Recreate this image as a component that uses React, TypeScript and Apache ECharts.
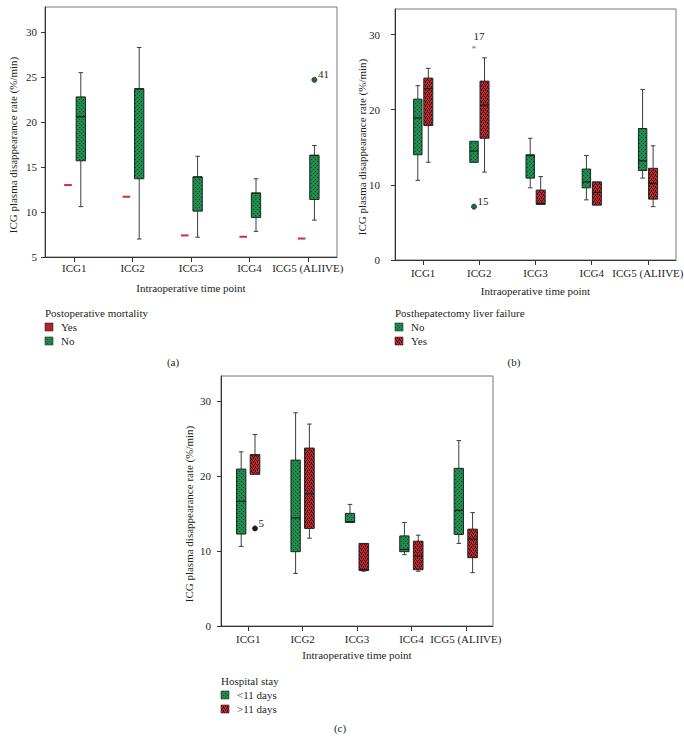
import React, { useEffect, useRef } from 'react';
import * as echarts from 'echarts';

// ---------- data ----------
const categories = ['ICG1', 'ICG2', 'ICG3', 'ICG4', 'ICG5 (ALIIVE)'];
const yTicksA = [5, 10, 15, 20, 25, 30];
const yTicksBC = [0, 10, 20, 30];

// box statistics per time point: [lower whisker, Q1, median, Q3, upper whisker]
// (a) Postoperative mortality
const mortalityYes = [
  [13.0, 13.0, 13.0, 13.0, 13.0],
  [11.7, 11.7, 11.7, 11.7, 11.7],
  [7.4, 7.4, 7.4, 7.4, 7.4],
  [7.25, 7.25, 7.25, 7.25, 7.25],
  [7.05, 7.05, 7.05, 7.05, 7.05],
];
const mortalityNo = [
  [10.6, 15.7, 20.6, 22.8, 25.5],
  [7.0, 13.7, 23.7, 23.7, 28.3],
  [7.2, 10.1, 13.9, 13.9, 16.2],
  [7.85, 9.4, 12.1, 12.1, 13.7],
  [9.1, 11.4, 16.3, 16.3, 17.4],
];
// [category index, value, case label, kind]
const mortalityNoOutliers: [number, number, string, string][] = [[4, 24.7, '41', 'circle']];

// (b) Posthepatectomy liver failure
const liverFailureNo = [
  [10.6, 14.0, 18.9, 21.4, 23.2],
  [13.0, 13.0, 14.5, 15.8, 15.8],
  [9.6, 10.9, 13.9, 14.0, 16.2],
  [8.0, 9.6, 10.4, 12.1, 13.9],
  [10.9, 11.9, 13.2, 17.5, 22.7],
];
const liverFailureYes = [
  [13.0, 17.9, 22.8, 24.2, 25.5],
  [11.7, 16.2, 20.6, 23.8, 26.9],
  [7.4, 7.4, 7.5, 9.3, 11.1],
  [7.3, 7.3, 9.0, 10.4, 10.4],
  [7.1, 8.1, 10.2, 12.2, 15.2],
];
const liverFailureNoOutliers: [number, number, string, string][] = [
  [1, 28.3, '17', 'extreme'],
  [1, 7.1, '15', 'circle'],
];

// (c) Hospital stay
const stayShort = [
  [10.6, 12.25, 16.6, 20.9, 23.2],
  [7.0, 9.9, 14.4, 22.1, 28.4],
  [13.8, 13.8, 13.9, 15.0, 16.2],
  [9.5, 9.9, 10.2, 12.0, 13.8],
  [11.0, 12.2, 15.4, 21.0, 24.7],
];
const stayLong = [
  [20.2, 20.2, 22.8, 22.8, 25.5],
  [11.7, 13.0, 17.6, 23.7, 26.9],
  [7.3, 7.4, 7.5, 11.0, 11.0],
  [7.3, 7.5, 9.3, 11.3, 12.1],
  [7.1, 9.1, 11.6, 12.9, 15.1],
];
const stayLongOutliers: [number, number, string, string][] = [[0, 13.0, '5', 'circle']];

// ---------- styles ----------
const FONT_FAMILY = '"Liberation Serif", "DejaVu Serif", serif';
const FONT = `11px ${FONT_FAMILY}`;
const TEXT = '#231f20';
const GREEN = '#1f8b4f';
const GREEN_DOT = '#0c4726';
const RED = '#bd2a34';
const RED_DOT = '#4a090e';
const RED_SOLID = '#b5222b';
const BOX_STROKE = '#17261c';
const WHISKER = '#3c3c3c';

const svgUrl = (svg: string) => 'data:image/svg+xml;charset=utf-8,' + encodeURIComponent(svg);
const greenPattern = {
  image: svgUrl(
    `<svg xmlns='http://www.w3.org/2000/svg' width='4' height='4'><rect width='4' height='4' fill='${GREEN}'/><rect x='1' y='1' width='1' height='1' fill='${GREEN_DOT}'/><rect x='3' y='3' width='1' height='1' fill='${GREEN_DOT}'/></svg>`
  ),
  repeat: 'repeat',
  imageWidth: 4,
  imageHeight: 4,
};
const redPattern = {
  image: svgUrl(
    `<svg xmlns='http://www.w3.org/2000/svg' width='4' height='4'><rect width='4' height='4' fill='${RED}'/><rect x='0' y='0' width='1' height='1' fill='${RED_DOT}'/><rect x='2' y='0' width='1' height='1' fill='${RED_DOT}'/><rect x='1' y='2' width='1' height='1' fill='${RED_DOT}'/><rect x='3' y='2' width='1' height='1' fill='${RED_DOT}'/><rect x='1' y='1' width='1' height='1' fill='${RED_DOT}'/><rect x='3' y='3' width='1' height='1' fill='${RED_DOT}'/></svg>`
  ),
  repeat: 'repeat',
  imageWidth: 4,
  imageHeight: 4,
};

const ln = (x1: number, y1: number, x2: number, y2: number, stroke: string, lineWidth = 1) => ({
  type: 'line',
  shape: { x1, y1, x2, y2 },
  style: { stroke, lineWidth },
});

function makeBoxRender(offset: number, width: number, fill: any, flatColor?: string) {
  return (params: any, api: any) => {
    const ci = api.value(0);
    const v = [api.value(1), api.value(2), api.value(3), api.value(4), api.value(5)];
    const cx = api.coord([ci, v[0]])[0] + offset;
    const py = v.map((val: number) => api.coord([ci, val])[1]);
    const h = width / 2;
    const children: any[] = [];
    if (flatColor) {
      children.push(ln(cx - h, py[2], cx + h, py[2], flatColor, 2));
      return { type: 'group', children };
    }
    const cap = 2.3;
    if (py[3] - py[4] > 0.5) {
      children.push(ln(cx, py[3], cx, py[4], WHISKER));
      children.push(ln(cx - cap, py[4], cx + cap, py[4], WHISKER));
    }
    if (py[0] - py[1] > 0.5) {
      children.push(ln(cx, py[1], cx, py[0], WHISKER));
      children.push(ln(cx - cap, py[0], cx + cap, py[0], WHISKER));
    }
    children.push({
      type: 'rect',
      shape: { x: cx - h, y: py[3], width, height: Math.max(py[1] - py[3], 1) },
      style: { fill, stroke: BOX_STROKE, lineWidth: 1 },
    });
    children.push(ln(cx - h, py[2], cx + h, py[2], BOX_STROKE, 1.3));
    return { type: 'group', children };
  };
}

function makeOutlierRender(list: [number, number, string, string][], offset: number, color: string) {
  return (params: any, api: any) => {
    const ci = api.value(0);
    const p = api.coord([ci, api.value(1)]);
    const x = p[0] + offset;
    const y = p[1];
    const item = list[params.dataIndex];
    const children: any[] = [];
    if (item[3] === 'extreme') {
      const c = '#8a9a90';
      children.push(ln(x - 1.8, y, x + 1.8, y, c));
      children.push(ln(x - 1.3, y - 1.3, x + 1.3, y + 1.3, c));
      children.push(ln(x - 1.3, y + 1.3, x + 1.3, y - 1.3, c));
      children.push({
        type: 'text',
        x: x + 5,
        y: y - 11,
        style: { text: item[2], font: FONT, fill: TEXT, align: 'center', verticalAlign: 'middle' },
      });
    } else {
      children.push({
        type: 'circle',
        shape: { cx: x, cy: y, r: 2.6 },
        style: { fill: color, stroke: '#0d1a12', lineWidth: 0.6 },
      });
      children.push({
        type: 'text',
        x: x + 3.5,
        y: y - 5.5,
        style: { text: item[2], font: FONT, fill: TEXT, align: 'left', verticalAlign: 'middle' },
      });
    }
    return { type: 'group', children };
  };
}

const boxData = (arr: number[][]) => arr.map((d, i) => [i, ...d]);
const outlierData = (arr: [number, number, string, string][]) => arr.map((d) => [d[0], d[1]]);

// ---------- panel layout ----------
const panels = [
  {
    grid: { left: 45, top: 7, width: 292, height: 250 },
    yMin: 5,
    yMax: 32.8,
    yInterval: 5,
    ticks: yTicksA,
    yLabelMargin: 8,
    xLabelMargin: 5,
    nameGap: 25,
    boxes: [
      { name: 'Yes', data: mortalityYes, offset: -6.2, width: 7.6, fill: RED_SOLID, flat: '#c8323a' },
      { name: 'No', data: mortalityNo, offset: 6.6, width: 9.3, fill: greenPattern },
    ],
    outliers: [{ list: mortalityNoOutliers, offset: 6.6, color: '#1d6a3e' }],
  },
  {
    grid: { left: 395, top: 9, width: 281, height: 251 },
    yMin: 0,
    yMax: 33.4,
    yInterval: 10,
    ticks: yTicksBC,
    yLabelMargin: 15,
    xLabelMargin: 7,
    nameGap: 25,
    boxes: [
      { name: 'No', data: liverFailureNo, offset: -5.3, width: 8.4, fill: greenPattern },
      { name: 'Yes', data: liverFailureYes, offset: 5.2, width: 9, fill: redPattern },
    ],
    outliers: [{ list: liverFailureNoOutliers, offset: -5.3, color: '#1d6a3e' }],
  },
  {
    grid: { left: 221, top: 376, width: 272, height: 250 },
    yMin: 0,
    yMax: 33.3,
    yInterval: 10,
    ticks: yTicksBC,
    yLabelMargin: 10,
    xLabelMargin: 7,
    nameGap: 23,
    boxes: [
      { name: '<11 days', data: stayShort, offset: -7, width: 9.3, fill: greenPattern },
      { name: '>11 days', data: stayLong, offset: 6.8, width: 9.6, fill: redPattern },
    ],
    outliers: [{ list: stayLongOutliers, offset: 6.8, color: '#3d0c12' }],
  },
];

// legends and panel captions
const legends = [
  {
    title: 'Postoperative mortality',
    x: 45,
    y: 313,
    items: [
      { label: 'Yes', fill: RED_SOLID },
      { label: 'No', fill: greenPattern },
    ],
  },
  {
    title: 'Posthepatectomy liver failure',
    x: 395,
    y: 313,
    items: [
      { label: 'No', fill: greenPattern },
      { label: 'Yes', fill: redPattern },
    ],
  },
  {
    title: 'Hospital stay',
    x: 221,
    y: 681,
    items: [
      { label: '<11 days', fill: greenPattern },
      { label: '>11 days', fill: redPattern },
    ],
  },
];
const captions = [
  { text: '(a)', x: 173, y: 362 },
  { text: '(b)', x: 514, y: 362 },
  { text: '(c)', x: 340, y: 728 },
];
const yNames = [
  { x: 13, y: 145 },
  { x: 362, y: 147 },
  { x: 189, y: 514 },
];

function buildOption() {
  const grid: any[] = [];
  const xAxis: any[] = [];
  const yAxis: any[] = [];
  const series: any[] = [];
  const graphic: any[] = [];

  panels.forEach((p, gi) => {
    grid.push({
      ...p.grid,
      show: true,
      borderColor: '#777',
      borderWidth: 1,
      backgroundColor: 'transparent',
      containLabel: false,
      outerBoundsMode: 'none',
    });
    xAxis.push({
      type: 'category',
      gridIndex: gi,
      data: categories,
      boundaryGap: true,
      axisLine: { show: true, lineStyle: { color: '#333', width: 1 } },
      axisTick: { show: true, alignWithLabel: true, length: 5, lineStyle: { color: '#333' } },
      axisLabel: { color: TEXT, fontFamily: FONT_FAMILY, fontSize: 11, margin: p.xLabelMargin, interval: 0 },
      splitLine: { show: false },
      name: 'Intraoperative time point',
      nameLocation: 'middle',
      nameGap: p.nameGap,
      nameTextStyle: { color: TEXT, fontFamily: FONT_FAMILY, fontSize: 11 },
    });
    yAxis.push({
      type: 'value',
      gridIndex: gi,
      min: p.yMin,
      max: p.yMax,
      interval: p.yInterval,
      axisLine: { show: true, lineStyle: { color: '#333', width: 1 } },
      axisTick: { show: true, length: 4, lineStyle: { color: '#333' }, customValues: p.ticks },
      axisLabel: {
        color: TEXT,
        fontFamily: FONT_FAMILY,
        fontSize: 11,
        margin: p.yLabelMargin,
        customValues: p.ticks,
        formatter: (v: number) => (p.ticks.indexOf(v) >= 0 ? String(v) : ''),
      },
      splitLine: { show: false },
    });
    p.boxes.forEach((b: any) => {
      series.push({
        type: 'custom',
        name: b.name,
        xAxisIndex: gi,
        yAxisIndex: gi,
        data: boxData(b.data),
        encode: { x: 0, y: [1, 2, 3, 4, 5] },
        renderItem: makeBoxRender(b.offset, b.width, b.fill, b.flat),
        z: 3,
      });
    });
    p.outliers.forEach((o) => {
      series.push({
        type: 'custom',
        xAxisIndex: gi,
        yAxisIndex: gi,
        data: outlierData(o.list),
        encode: { x: 0, y: 1 },
        renderItem: makeOutlierRender(o.list, o.offset, o.color),
        z: 4,
      });
    });
  });

  legends.forEach((lg) => {
    graphic.push({
      type: 'text',
      x: lg.x,
      y: lg.y,
      style: { text: lg.title, font: FONT, fill: TEXT, align: 'left', verticalAlign: 'middle' },
    });
    lg.items.forEach((it, i) => {
      const cy = lg.y + 14 * (i + 1);
      graphic.push({
        type: 'rect',
        shape: { x: lg.x, y: cy - 4, width: 8, height: 8 },
        style: { fill: it.fill, stroke: '#2a2a2a', lineWidth: 0.6 },
      });
      graphic.push({
        type: 'text',
        x: lg.x + 16,
        y: cy,
        style: { text: it.label, font: FONT, fill: TEXT, align: 'left', verticalAlign: 'middle' },
      });
    });
  });
  captions.forEach((c) => {
    graphic.push({
      type: 'text',
      x: c.x,
      y: c.y,
      style: { text: c.text, font: FONT, fill: TEXT, align: 'center', verticalAlign: 'middle' },
    });
  });
  yNames.forEach((n) => {
    graphic.push({
      type: 'text',
      x: n.x,
      y: n.y,
      rotation: Math.PI / 2,
      style: {
        text: 'ICG plasma disappearance rate (%/min)',
        font: FONT,
        fill: TEXT,
        align: 'center',
        verticalAlign: 'middle',
      },
    });
  });

  return {
    animation: false,
    backgroundColor: '#ffffff',
    textStyle: { fontFamily: FONT_FAMILY },
    grid,
    xAxis,
    yAxis,
    series,
    graphic,
  };
}

export default function App() {
  const ref = useRef<HTMLDivElement>(null);
  useEffect(() => {
    if (!ref.current) return;
    const chart = echarts.init(ref.current, null, { renderer: 'svg' });
    chart.setOption(buildOption() as any);
    return () => chart.dispose();
  }, []);
  return (
    <div
      ref={ref}
      style={{ position: 'absolute', left: 0, top: 0, width: 684, height: 740, background: '#fff' }}
    />
  );
}
